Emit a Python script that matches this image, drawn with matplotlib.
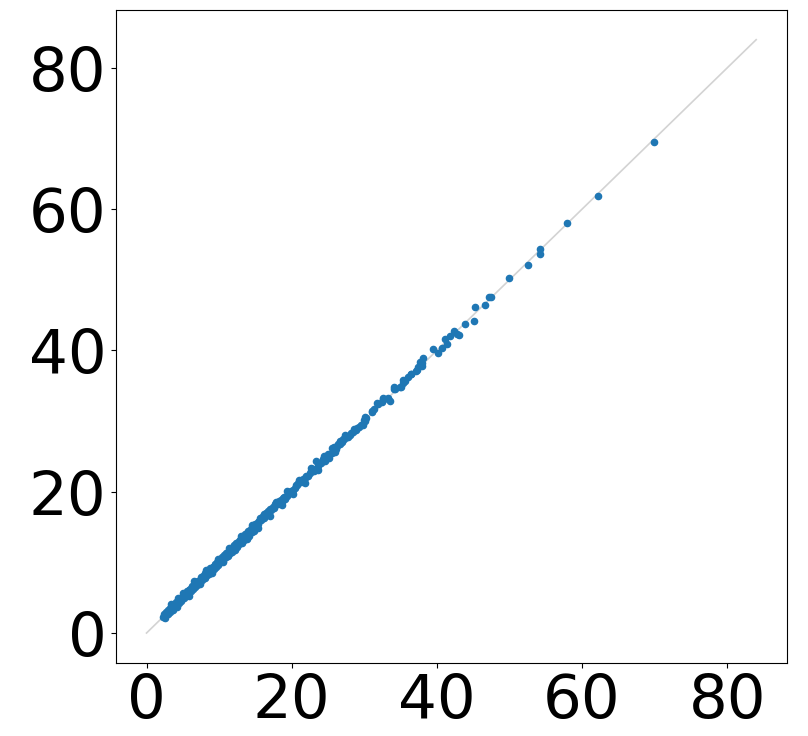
import matplotlib
matplotlib.use("Agg")
import matplotlib.pyplot as plt

# dense lower part of the band
x_low = [2.3, 2.4, 2.6, 2.7, 2.9, 3.0, 3.2, 3.3, 3.5, 3.6, 3.8, 3.9, 4.1, 4.2,
         4.4, 4.5, 4.7, 4.8, 5.0, 5.1, 5.3, 5.4, 5.6, 5.8, 5.9, 6.1, 6.2, 6.4,
         6.5, 6.7, 6.9, 7.0, 7.2, 7.3, 7.5, 7.7, 7.8, 8.0, 8.1, 8.3, 8.5, 8.6,
         8.8, 8.9, 9.1, 9.3, 9.4, 9.6, 9.7, 9.9, 10.1, 10.2, 10.4, 10.5, 10.7,
         10.9, 11.0, 11.2, 11.4, 11.5, 11.7, 11.8, 12.0, 12.2, 12.3, 12.5, 12.7,
         12.8, 13.0, 13.1, 13.3, 13.5, 13.6, 13.8, 14.0, 14.1, 14.3, 14.5, 14.6,
         14.8, 15.0, 15.1, 15.3,
         2.5, 2.8, 3.1, 3.4, 3.7, 4.0, 4.3, 4.6, 4.9, 5.2, 5.5, 5.7, 6.0, 6.3,
         6.6, 6.8, 7.1, 7.4, 7.6, 7.9, 8.2, 8.4, 8.7, 9.0, 9.2, 9.5, 9.8, 10.0,
         10.3, 10.6, 10.8, 11.1, 11.3, 11.6, 11.9, 12.1, 12.4, 12.6, 12.9, 13.2,
         13.4, 13.7, 13.9, 14.2, 14.4, 14.7, 14.9, 15.2, 15.4,
         2.6, 3.4, 4.2, 5.0, 5.8, 6.6, 7.4, 8.2, 9.0, 9.8, 10.6, 11.4, 12.2,
         13.0, 13.8, 14.6, 15.4]
y_low = [2.2, 2.7, 2.4, 3.0, 2.7, 3.3, 3.0, 3.6, 3.4, 3.3, 4.1, 3.7, 4.4, 4.0,
         4.9, 4.3, 5.0, 4.6, 5.4, 4.9, 5.5, 5.2, 6.0, 5.6, 6.1, 5.9, 6.6, 6.2,
         6.8, 6.5, 7.2, 6.8, 7.4, 7.1, 7.9, 7.5, 8.1, 7.8, 8.5, 8.2, 8.8, 8.4,
         9.2, 8.8, 9.4, 9.1, 9.8, 9.4, 10.0, 9.7, 10.5, 10.0, 10.7, 10.2, 11.1,
         10.7, 11.3, 10.9, 11.8, 11.3, 12.0, 11.5, 12.4, 12.0, 12.7, 12.2, 13.0,
         12.6, 13.4, 12.8, 13.7, 13.2, 14.0, 13.5, 14.4, 13.8, 14.6, 14.3, 15.0,
         14.5, 15.4, 14.9, 15.7,
         2.5, 2.9, 3.1, 3.5, 3.8, 4.1, 4.4, 4.7, 5.0, 5.3, 5.6, 5.9, 6.2, 6.4,
         6.7, 7.0, 7.3, 7.5, 7.8, 8.1, 8.3, 8.6, 8.9, 9.1, 9.4, 9.6, 10.0, 10.3,
         10.4, 10.8, 11.0, 11.3, 11.5, 11.8, 12.1, 12.3, 12.6, 12.8, 13.1, 13.3,
         13.6, 13.9, 14.1, 14.4, 14.6, 14.9, 15.1, 15.4, 15.5,
         2.1, 4.1, 3.7, 5.7, 5.3, 7.3, 6.9, 8.9, 8.5, 10.5, 10.1, 12.1, 11.7,
         13.7, 13.3, 15.3, 14.9]

# middle part
x_mid = [15.6, 16.0, 16.5, 17.0, 17.4, 17.9, 18.3, 18.8, 19.3, 19.7, 20.2, 20.6,
         21.1, 21.8, 22.5, 22.9, 23.4, 23.6, 24.1, 24.6, 25.2, 25.5, 25.9, 26.6,
         27.1, 27.3,
         15.5, 15.8, 16.2, 16.3, 16.7, 16.8, 17.2, 17.6, 17.7, 18.1, 18.5, 18.6,
         19.0, 19.1, 19.5, 19.9, 20.0, 20.4, 20.8, 20.9, 21.3, 21.5, 21.6, 22.0,
         22.2, 22.7, 23.1, 23.8, 24.3, 24.8, 25.0, 25.7, 26.1, 26.3, 26.9, 27.6,
         28.2, 28.6, 29.0, 29.5, 29.9,
         25.5, 25.9, 26.4, 26.7, 27.2, 27.8, 28.0, 28.5, 28.8, 29.3, 29.8, 30.1,
         30.3, 31.0, 31.3, 31.9, 32.4, 32.6, 33.3, 33.5, 34.1, 34.3, 34.9, 35.3,
         35.6, 36.0, 36.4, 37.1, 37.4, 37.9,
         16.2, 17.0, 17.8, 18.6, 19.4, 20.2, 21.0, 21.8, 22.6, 23.6, 24.4, 26.0]
y_mid = [16.3, 16.6, 17.0, 17.5, 17.9, 18.4, 18.7, 19.1, 19.4, 19.8, 20.3, 21.0,
         21.5, 22.0, 22.7, 23.2, 24.3, 23.6, 24.1, 24.3, 24.8, 25.5, 26.2, 26.7,
         27.4, 28.1,
         15.8, 16.0, 16.3, 16.8, 16.9, 17.3, 17.4, 17.7, 18.2, 18.3, 18.9, 18.6,
         19.3, 19.0, 19.7, 20.1, 19.9, 20.6, 20.9, 21.3, 21.4, 21.8, 21.5, 22.3,
         22.2, 23.0, 23.0, 24.0, 24.6, 25.0, 25.3, 25.8, 26.0, 26.5, 27.0, 27.8,
         28.3, 28.9, 29.0, 29.4, 30.1,
         26.2, 26.4, 26.7, 27.2, 27.4, 27.7, 28.1, 28.5, 28.7, 29.1, 29.5, 30.0,
         30.5, 31.3, 31.7, 32.4, 32.7, 33.3, 33.2, 32.9, 34.8, 34.5, 34.8, 35.4,
         35.7, 36.2, 36.6, 37.1, 37.6, 38.2,
         16.9, 16.5, 18.5, 18.1, 20.1, 19.7, 21.7, 21.3, 23.3, 23.1, 25.0, 25.6]

# sparse upper part
x_high = [30.1, 31.1, 31.8, 32.6, 33.3, 34.1, 35.1, 35.4, 36.4, 37.2, 37.7, 37.9,
          38.1, 39.5, 40.1, 40.7, 41.1, 41.4, 41.8, 42.3, 42.8, 43.1, 43.9, 45.1,
          45.2, 46.6, 47.2, 47.4, 49.9, 52.5, 54.2, 54.2, 58.0, 62.2, 69.9]
y_high = [30.6, 31.4, 32.5, 33.2, 33.3, 34.6, 34.8, 35.8, 36.6, 37.3, 38.3, 37.8,
          39.0, 40.2, 39.6, 40.3, 41.6, 40.9, 42.1, 42.7, 42.4, 42.2, 43.8, 44.2,
          46.1, 46.5, 47.6, 47.6, 50.3, 52.1, 53.6, 54.4, 58.0, 61.8, 69.5]

line_max = 84

fig = plt.figure(figsize=(8.08, 7.36), dpi=100)
ax = fig.add_axes([0.1436, 0.0996, 0.830, 0.8868])
ax.plot([0, line_max], [0, line_max], color="lightgray", lw=1.2, zorder=1)
ax.scatter(x_low + x_mid + x_high, y_low + y_mid + y_high, s=20,
           color="#1f77b4", zorder=2)
ax.set_xticks([0, 20, 40, 60, 80])
ax.set_yticks([0, 20, 40, 60, 80])
ax.tick_params(labelsize=44)
fig.savefig("out.png", dpi=100)
